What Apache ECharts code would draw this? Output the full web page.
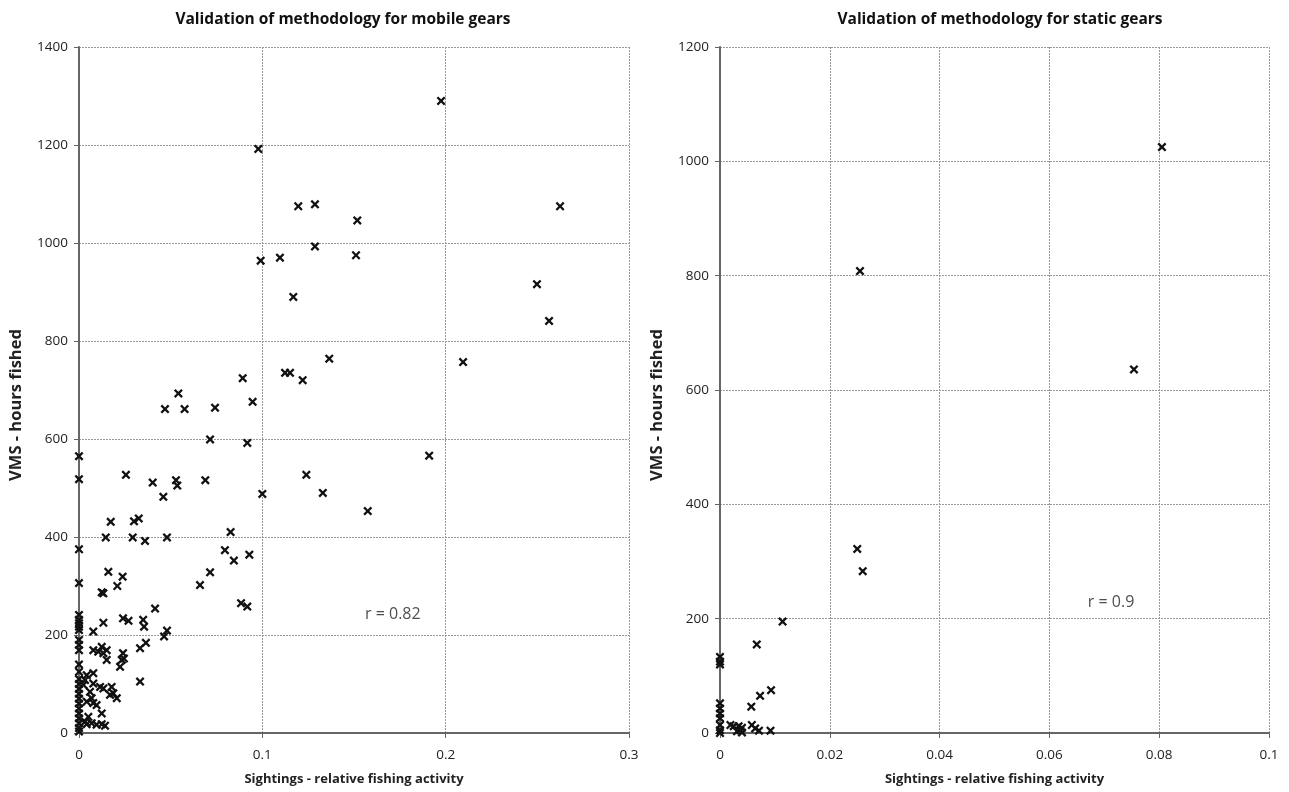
<!DOCTYPE html>
<html>
<head>
<meta charset="utf-8">
<script src="https://cdn.jsdelivr.net/npm/echarts@6/dist/echarts.min.js"></script>
<style>
html,body{margin:0;padding:0;background:#fff;}
#chart{width:1289px;height:792px;}
</style>
</head>
<body>
<div id="chart"></div>
<script>
// ---- Data ----
const titles = ['Validation of methodology for mobile gears', 'Validation of methodology for static gears'];
const xAxisName = 'Sightings - relative fishing activity';
const yAxisName = 'VMS - hours fished';

const mobileX = [0.1975,0.0978,0.1196,0.1287,0.1518,0.2624,0.1287,0.1511,0.1096,0.0991,0.1169,0.2498,0.2564,0.2095,0.1365,0.1124,0.1151,0.122,0.0893,0.0947,0.0542,0.0469,0.0576,0.0742,
0.0715,0.0918,0,0.191,0,0.0256,0.0402,0.0529,0.0536,0.0689,0.124,0.1,0.133,0.1575,0.046,
0.0173,0.03,0.0326,0.0146,0.0293,0.036,0.048,0,0.0827,0.0796,0.0845,0.0929,0.0715,0.066,
0.016,0.0238,0.0209,0,0.0124,0.0133,0.0884,0.0918,0.0415,
0,0,0,0,0,0.0078,0.0133,0.024,0.027,0.035,0.0355,0.0464,0.048,
0,0,0,0.0078,0.0105,0.0124,0.0133,0.0151,0.024,0.0245,0.0333,0.0365,0.0151,0.0224,0.0233,0.0333,
0,0,0,0,0,0,0,0,0,0,0,0,0,0,
0.0042,0.0078,0.0033,0.0024,0.0078,0.0115,0.0133,0.0178,0.0187,0.0169,0.0206,0.006,0.0069,0.0042,0.0078,0.0096,0.0124,0.0051,0.0033,0.0042,0.0069,0.0096,0.0124,0.0142];
const mobileY = [1290,1192,1075,1079,1046,1075,993,975,970,964,890,916,841,757,764,735,735,720,724,676,693,661,661,664,
599,592,565,566,518,527,511,516,505,516,527,488,490,453,482,
431,432,438,399,399,392,399,375,410,373,352,364,328,302,
329,319,300,306,287,285,265,258,254,
241,231,224,217,210,207,225,234,229,231,217,197,209,
190,180,169,169,166,176,163,169,163,152,173,184,149,135,149,105,
140,125,110,100,90,80,70,60,50,40,30,20,10,3,
118,122,108,98,101,94,91,94,81,78,71,84,71,64,61,57,40,33,23,18,20,17,18,15];

const staticX = [0.0805,0.0255,0.0754,0.025,0.026,0.0114,0.0067,0.0093,0.0073,0.0057,
0,0,0,0,0,0,0,0,0,0,
0.0019,0.0025,0.0034,0.004,0.0037,0.0031,0.004,0.0058,0.0064,0.0071,0.0092];
const staticY = [1025,808,636,322,283,195,155,75,65,46,
133,125,120,52,43,34,26,14,5,0,
14,12,12,9,5,3,1,14,8,4,4];

const mobileXTicks = {min:0, max:0.3, interval:0.1};
const mobileYTicks = {min:0, max:1400, interval:200};
const staticXTicks = {min:0, max:0.1, interval:0.02};
const staticYTicks = {min:0, max:1200, interval:200};

const annotations = [
  {grid:0, text:'r = 0.82', x:0.156, y:241},
  {grid:1, text:'r = 0.9', x:0.067, y:229}
];

// ---- Styling ----
const FONT = '"Open Sans", "Liberation Sans", sans-serif';
const xMark = 'path://M0,1.8 L1.8,0 L5,3.2 L8.2,0 L10,1.8 L6.8,5 L10,8.2 L8.2,10 L5,6.8 L1.8,10 L0,8.2 L3.2,5 Z';

function zip(a, b){ return a.map((v,i)=>[v,b[i]]); }

function xAxis(idx, t){
  return {
    type:'value', gridIndex:idx, min:t.min, max:t.max, interval:t.interval,
    name:xAxisName, nameLocation:'middle', nameGap:40,
    nameTextStyle:{fontFamily:FONT, fontWeight:'bold', fontSize:13, color:'#222'},
    axisLine:{show:true, onZero:false, lineStyle:{color:'#666', width:2}},
    axisTick:{show:true, inside:false, length:5, lineStyle:{color:'#666', width:1}},
    axisLabel:{fontFamily:FONT, fontSize:13.5, color:'#222', margin:15, formatter:v=>String(v)},
    splitLine:{show:true, lineStyle:{color:'#999', type:[2,1], width:1}}
  };
}
function yAxis(idx, t){
  return {
    type:'value', gridIndex:idx, min:t.min, max:t.max, interval:t.interval,
    name:yAxisName, nameLocation:'middle', nameGap:54, nameRotate:90,
    nameTextStyle:{fontFamily:FONT, fontWeight:'bold', fontSize:16.5, color:'#222', padding:[0,30,0,0]},
    axisLine:{show:true, onZero:false, lineStyle:{color:'#666', width:2}},
    axisTick:{show:true, inside:false, length:5, lineStyle:{color:'#666', width:1}},
    axisLabel:{fontFamily:FONT, fontSize:13.5, color:'#222', margin:11, formatter:v=>String(v)},
    splitLine:{show:true, lineStyle:{color:'#999', type:[2,1], width:1}}
  };
}

const chart = echarts.init(document.getElementById('chart'));
const option = {
  backgroundColor:'#fff',
  animation:false,
  title:[
    {text:titles[0], left:338, top:7, textAlign:'center',
     textStyle:{fontFamily:FONT, fontWeight:'bold', fontSize:15.5, color:'#111'}},
    {text:titles[1], left:995, top:7, textAlign:'center',
     textStyle:{fontFamily:FONT, fontWeight:'bold', fontSize:15.5, color:'#111'}}
  ],
  grid:[
    {left:79, right:660, top:47, bottom:59, containLabel:false, outerBoundsMode:'none'},
    {left:720, right:20, top:47, bottom:59, containLabel:false, outerBoundsMode:'none'}
  ],
  xAxis:[xAxis(0, mobileXTicks), xAxis(1, staticXTicks)],
  yAxis:[yAxis(0, mobileYTicks), yAxis(1, staticYTicks)],
  series:[
    {type:'scatter', xAxisIndex:0, yAxisIndex:0, data:zip(mobileX, mobileY),
     symbol:xMark, symbolSize:9, itemStyle:{color:'#111', opacity:1}},
    {type:'scatter', xAxisIndex:1, yAxisIndex:1, data:zip(staticX, staticY),
     symbol:xMark, symbolSize:9, itemStyle:{color:'#111', opacity:1}}
  ].concat(annotations.map(a => ({
    type:'scatter', xAxisIndex:a.grid, yAxisIndex:a.grid, symbolSize:0, silent:true,
    data:[[a.x, a.y]],
    label:{show:true, position:'right', distance:0, formatter:a.text,
           fontFamily:FONT, fontSize:16, color:'#222'}
  })))
};
chart.setOption(option);
</script>
</body>
</html>
